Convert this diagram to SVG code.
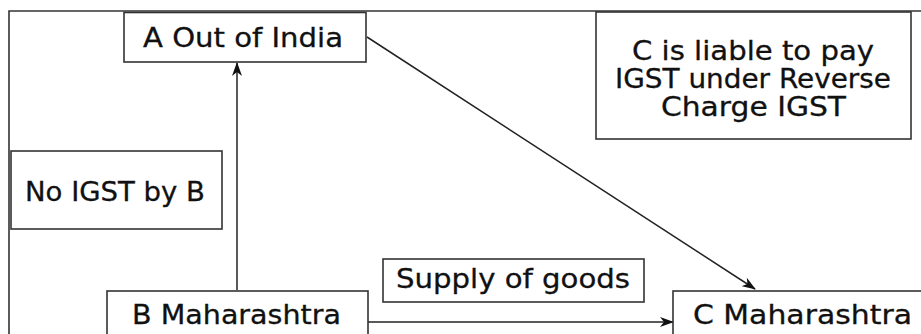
<svg xmlns="http://www.w3.org/2000/svg" width="921" height="334" viewBox="0 0 921 334">
<defs>
<style>
.box{fill:#fff;stroke:#333;stroke-width:1.6}
.t{font-family:"DejaVu Sans",Verdana,sans-serif;font-size:26px;fill:#111;stroke:#111;stroke-width:0.3}
.c{stroke:#222;stroke-width:1.5;fill:none}
</style>
<marker id="ah" markerWidth="14" markerHeight="10" refX="13" refY="5" orient="auto" markerUnits="userSpaceOnUse">
<path d="M0,0 L14,5 L0,10 L4,5 Z" fill="#111"/>
</marker>
</defs>
<rect width="921" height="334" fill="#fff"/>
<path d="M9,345 L9,11 L930,11" fill="none" stroke="#333" stroke-width="1.6"/>
<g id="connectors">
<line class="c" x1="237" y1="290" x2="237" y2="63" marker-end="url(#ah)"/>
<line class="c" x1="367" y1="37" x2="755" y2="289" marker-end="url(#ah)"/>
<line class="c" x1="368" y1="322" x2="673" y2="322" marker-end="url(#ah)"/>
</g>
<g id="nodeA">
<rect class="box" x="124" y="12.5" width="242" height="49.5"/>
<text class="t" x="143" y="47" textLength="200" lengthAdjust="spacingAndGlyphs">A Out of India</text>
</g>
<g id="nodeNote">
<rect class="box" x="596" y="12" width="315" height="127"/>
<text class="t" x="632" y="60" textLength="242" lengthAdjust="spacingAndGlyphs">C is liable to pay</text>
<text class="t" x="615" y="88" textLength="276" lengthAdjust="spacingAndGlyphs">IGST under Reverse</text>
<text class="t" x="661" y="116" textLength="185" lengthAdjust="spacingAndGlyphs">Charge IGST</text>
</g>
<g id="nodeNoIGST">
<rect class="box" x="11" y="151" width="211" height="78"/>
<text class="t" x="25" y="201" textLength="180" lengthAdjust="spacingAndGlyphs">No IGST by B</text>
</g>
<g id="nodeSupply">
<rect class="box" x="383" y="259" width="261" height="43"/>
<text class="t" x="396" y="288" textLength="234" lengthAdjust="spacingAndGlyphs">Supply of goods</text>
</g>
<g id="nodeB">
<rect class="box" x="107" y="291" width="261" height="60"/>
<text class="t" x="132" y="324" textLength="209" lengthAdjust="spacingAndGlyphs">B Maharashtra</text>
</g>
<g id="nodeC">
<rect class="box" x="673" y="291" width="260" height="60"/>
<text class="t" x="693" y="324" textLength="219" lengthAdjust="spacingAndGlyphs">C Maharashtra</text>
</g>
</svg>
